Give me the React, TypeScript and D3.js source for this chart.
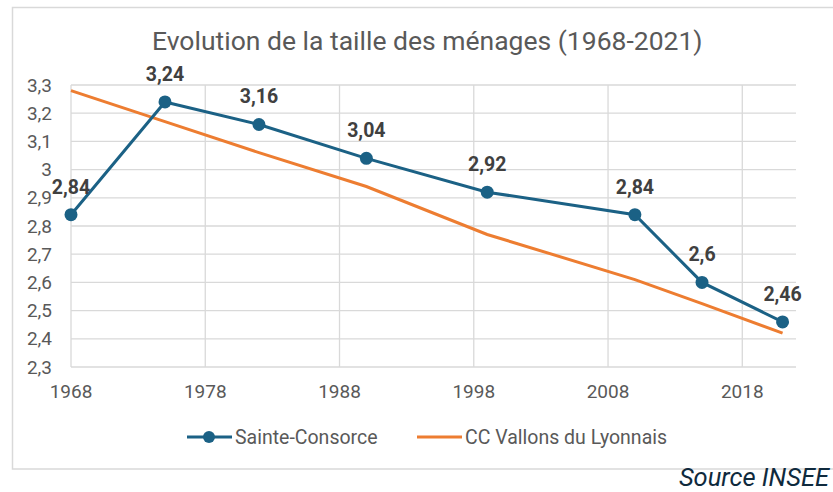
import React from "react";
import * as d3 from "d3";

const years = [1968, 1975, 1982, 1990, 1999, 2010, 2015, 2021];
const sainteConsorce = [2.84, 3.24, 3.16, 3.04, 2.92, 2.84, 2.6, 2.46];
const ccVallons = [3.28, 3.17, 3.06, 2.94, 2.77, 2.61, 2.525, 2.42];
const xTicks = [1968, 1978, 1988, 1998, 2008, 2018];
const yTicks = [2.3, 2.4, 2.5, 2.6, 2.7, 2.8, 2.9, 3, 3.1, 3.2, 3.3];

const blue = "#1b6185";
const orange = "#ed7d31";
const grid = "#d9d9d9";
const textGray = "#595959";
const font = "Roboto, sans-serif";

const width = 833;
const height = 492;
const margin = { top: 85, right: 37, bottom: 125, left: 71 };

const fmt = (v: number) => String(v).replace(".", ",");

export default function App() {
  const x = d3.scaleLinear().domain([1968, 2022]).range([margin.left, width - margin.right]);
  const y = d3.scaleLinear().domain([2.3, 3.3]).range([height - margin.bottom, margin.top]);

  const line = d3
    .line<number>()
    .x((_, i) => x(years[i]))
    .y((d) => y(d));

  return (
    <svg
      width={width}
      height={height}
      style={{ position: "absolute", left: 0, top: 0, fontFamily: font }}
    >
      <rect x={0} y={0} width={width} height={height} fill="white" />
      <rect x={12.5} y={7.5} width={width} height={461.5} fill="white" stroke={grid} strokeWidth={1.5} />

      <text x={152} y={50} fontSize={26.5} fill={textGray}>
        Evolution de la taille des ménages (1968-2021)
      </text>

      {/* horizontal grid */}
      {yTicks.map((t) => (
        <g key={t}>
          <line x1={x.range()[0]} x2={x.range()[1]} y1={y(t)} y2={y(t)} stroke={grid} strokeWidth={1.3} />
          <text x={52} y={y(t)} dy="0.35em" textAnchor="end" fontSize={19} fill={textGray}>
            {fmt(t)}
          </text>
        </g>
      ))}

      {/* vertical grid */}
      {xTicks.map((t) => (
        <g key={t}>
          <line x1={x(t)} x2={x(t)} y1={y.range()[1]} y2={y.range()[0]} stroke={grid} strokeWidth={1.3} />
          <text x={x(t)} y={398} textAnchor="middle" fontSize={19} fill={textGray}>
            {t}
          </text>
        </g>
      ))}

      <path d={line(ccVallons) ?? ""} fill="none" stroke={orange} strokeWidth={3} />
      <path d={line(sainteConsorce) ?? ""} fill="none" stroke={blue} strokeWidth={3} />

      {sainteConsorce.map((v, i) => (
        <g key={i}>
          <circle cx={x(years[i])} cy={y(v)} r={6.5} fill={blue} />
          <text
            x={x(years[i])}
            y={y(v) - 21}
            textAnchor="middle"
            fontSize={19.5}
            fontWeight="bold"
            fill="#404040"
          >
            {fmt(v)}
          </text>
        </g>
      ))}

      {/* legend */}
      <g>
        <line x1={187} x2={232} y1={437} y2={437} stroke={blue} strokeWidth={3} />
        <circle cx={209} cy={437} r={6} fill={blue} />
        <text x={235} y={437} dy="0.35em" fontSize={19.5} fill={textGray}>
          Sainte-Consorce
        </text>
        <line x1={417} x2={462} y1={437} y2={437} stroke={orange} strokeWidth={3} />
        <text x={465} y={437} dy="0.35em" fontSize={19.5} fill={textGray}>
          CC Vallons du Lyonnais
        </text>
      </g>

      <text x={829} y={486} textAnchor="end" fontSize={25.5} fontStyle="italic" fill="#0f2a3d">
        Source INSEE
      </text>
    </svg>
  );
}
